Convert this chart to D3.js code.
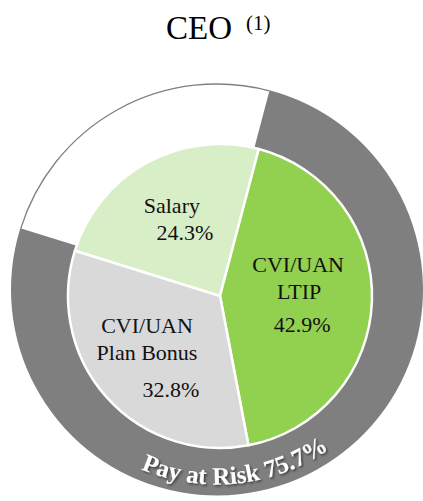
<!DOCTYPE html>
<html>
<head>
<meta charset="utf-8">
<script src="https://cdn.jsdelivr.net/npm/d3@7"></script>
<style>
  html, body { margin: 0; padding: 0; background: #ffffff; }
  svg { display: block; }
  text { font-family: "Times New Roman", "Liberation Serif", "Tinos", "DejaVu Serif", serif; }
</style>
</head>
<body>
<svg id="chart" width="423" height="501"></svg>
<script>
// ---- data ----
const categories = ["Salary", "CVI/UAN LTIP", "CVI/UAN Plan Bonus"];
const values = [24.3, 42.9, 32.8];
const labelLines = [["Salary", "24.3%"], ["CVI/UAN", "LTIP", "42.9%"], ["CVI/UAN", "Plan Bonus", "32.8%"]];
const ringCategories = ["Fixed", "Pay at Risk"];
const ringValues = [24.3, 75.7];
const ringLabel = "Pay at Risk 75.7%";
const titleText = "CEO";
const titleNote = "(1)";

// ---- styling / layout ----
const colors = ["#d8eec6", "#92d050", "#d9d9d9"];
const ringColors = ["#ffffff", "#7f7f7f"];
const pieC = { x: 220, y: 296 }, pieR = 152;
const ringC = { x: 217, y: 289.5 }, ringR = 206;
const startDeg = -72.7;
const toRad = d => d * Math.PI / 180;

// per-line label placement relative to slice centroid: [dx, dy(baseline)]
const labelOffsets = [
  [[-4, -3], [9, 24]],
  [[-13, -27], [-12, 0], [-9, 33]],
  [[-5, -24], [-5, 3], [19, 40]]
];

const svg = d3.select("#chart");
const defs = svg.append("defs");
const f = defs.append("filter").attr("id", "shadow").attr("x", "-20%").attr("y", "-20%").attr("width", "140%").attr("height", "140%");
f.append("feDropShadow").attr("dx", 1.5).attr("dy", 1.5).attr("stdDeviation", 1.2)
  .attr("flood-color", "#000").attr("flood-opacity", 0.55);

// ---- title ----
const title = svg.append("text").attr("fill", "#000");
title.append("tspan").attr("x", 166).attr("y", 39).attr("font-size", 33).text(titleText);
title.append("tspan").attr("x", 246).attr("y", 30).attr("font-size", 21).text(titleNote);

// ---- outer ring ----
const ringPie = d3.pie().sort(null).value(d => d)
  .startAngle(toRad(startDeg)).endAngle(toRad(startDeg) + 2 * Math.PI);
const ringArcs = ringPie(ringValues);
const ringG = svg.append("g").attr("transform", `translate(${ringC.x},${ringC.y})`);
const ringArc = d3.arc().innerRadius(120).outerRadius(ringR);
ringG.selectAll("path.ring").data(ringArcs).join("path")
  .attr("class", "ring")
  .attr("d", ringArc)
  .attr("fill", (d, i) => ringColors[i]);
ringG.append("path")
  .attr("d", d3.arc().innerRadius(ringR - 0.5).outerRadius(ringR - 0.5)(ringArcs[0]))
  .attr("fill", "none").attr("stroke", "#7f7f7f").attr("stroke-width", 1.3);

// ---- inner pie ----
const pie = d3.pie().sort(null).value(d => d)
  .startAngle(toRad(startDeg)).endAngle(toRad(startDeg) + 2 * Math.PI);
const arcs = pie(values);
const pieG = svg.append("g").attr("transform", `translate(${pieC.x},${pieC.y})`);
const arc = d3.arc().innerRadius(0).outerRadius(pieR);
pieG.selectAll("path.slice").data(arcs).join("path")
  .attr("class", "slice")
  .attr("d", arc)
  .attr("fill", (d, i) => colors[i])
  .attr("stroke", "#ffffff").attr("stroke-width", 2.5).attr("stroke-linejoin", "round");

// ---- slice labels ----
const labelArc = d3.arc().innerRadius(pieR * 0.6).outerRadius(pieR * 0.6);
arcs.forEach((d, i) => {
  const [cx, cy] = labelArc.centroid(d);
  const t = pieG.append("text")
    .attr("font-size", 22).attr("fill", "#111").attr("text-anchor", "middle");
  labelLines[i].forEach((line, j) => {
    const [dx, dy] = labelOffsets[i][j];
    t.append("tspan").attr("x", cx + dx).attr("y", cy + dy).text(line);
  });
});

// ---- curved "Pay at Risk" label ----
const textR = 195;
const midA = toRad(174);
const span = toRad(80);
const a0 = midA + span / 2, a1 = midA - span / 2;
const pt = a => [textR * Math.sin(a), -textR * Math.cos(a)];
const p0 = pt(a0), p1 = pt(a1);
defs.append("path").attr("id", "riskPath")
  .attr("d", `M${p0[0] + ringC.x},${p0[1] + ringC.y} A${textR},${textR} 0 0 0 ${p1[0] + ringC.x},${p1[1] + ringC.y}`);
svg.append("text")
  .attr("font-size", 25).attr("font-weight", "bold").attr("fill", "#ffffff")
  .attr("filter", "url(#shadow)")
  .append("textPath").attr("href", "#riskPath").attr("startOffset", "50%")
  .attr("text-anchor", "middle").text(ringLabel);
</script>
</body>
</html>
